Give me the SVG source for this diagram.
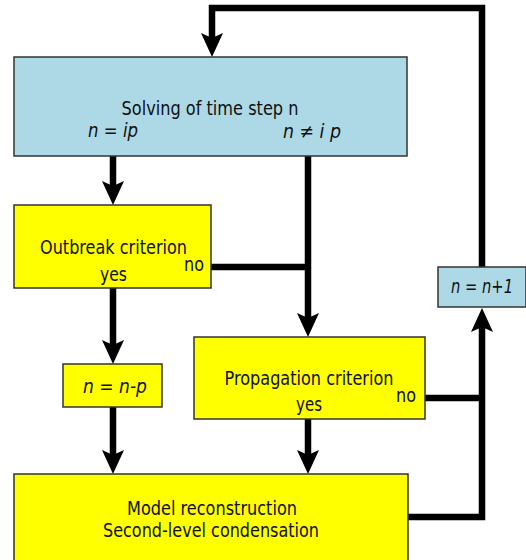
<svg xmlns="http://www.w3.org/2000/svg" width="526" height="560" viewBox="0 0 526 560">
<defs>
<style>
.box{stroke:#333;stroke-width:1.5}
.blue{fill:#ADD8E6}
.yel{fill:#FFFF00}
.t{font-family:"DejaVu Sans",Verdana,sans-serif;font-size:20px;fill:#111}
.c{text-anchor:middle}
.i{font-style:italic}
.con{fill:none;stroke:#000;stroke-width:6.5;stroke-linejoin:miter}
.arr{marker-end:url(#ah)}
</style>
<marker id="ah" markerUnits="userSpaceOnUse" markerWidth="24" markerHeight="22" viewBox="0 0 24 22" refX="12" refY="11" orient="auto">
<path d="M0,0 L24,11 L0,22 L5,11 Z" fill="#000"/>
</marker>
</defs>
<g id="connectors">
<path class="con arr" d="M482 267 V8 H212 V45"/>
<path class="con arr" d="M113 156 V193"/>
<path class="con arr" d="M308 156 V325"/>
<path class="con" d="M211 267 H308"/>
<path class="con arr" d="M113 288 V352"/>
<path class="con arr" d="M113 407 V462"/>
<path class="con arr" d="M308 419 V462"/>
<path class="con" d="M425 398 H482"/>
<path class="con arr" d="M408 517 H482 V320"/>
</g>
<g id="solve">
<rect class="box blue" x="14" y="57" width="393" height="99"/>
<text class="t c" x="210" y="115" textLength="177" lengthAdjust="spacingAndGlyphs">Solving of time step n</text>
<text class="t c i" x="113" y="137" textLength="50" lengthAdjust="spacingAndGlyphs">n = ip</text>
<text class="t c i" x="312" y="138" textLength="58" lengthAdjust="spacingAndGlyphs">n ≠ i p</text>
</g>
<g id="outbreak">
<rect class="box yel" x="14" y="205" width="197" height="83"/>
<text class="t c" x="113.5" y="254" textLength="147" lengthAdjust="spacingAndGlyphs">Outbreak criterion</text>
<text class="t" x="184" y="271" textLength="20" lengthAdjust="spacingAndGlyphs">no</text>
<text class="t c" x="113.5" y="281" textLength="27" lengthAdjust="spacingAndGlyphs">yes</text>
</g>
<g id="nminusp">
<rect class="box yel" x="63" y="364" width="99" height="43"/>
<text class="t c i" x="115" y="393" textLength="64" lengthAdjust="spacingAndGlyphs">n = n-p</text>
</g>
<g id="propagation">
<rect class="box yel" x="194" y="337" width="231" height="82"/>
<text class="t c" x="309" y="385" textLength="169" lengthAdjust="spacingAndGlyphs">Propagation criterion</text>
<text class="t" x="396" y="402" textLength="20" lengthAdjust="spacingAndGlyphs">no</text>
<text class="t c" x="309" y="411" textLength="26" lengthAdjust="spacingAndGlyphs">yes</text>
</g>
<g id="nplus1">
<rect class="box blue" x="438" y="267" width="88" height="40"/>
<text class="t c i" x="482" y="293" textLength="62" lengthAdjust="spacingAndGlyphs">n = n+1</text>
</g>
<g id="model">
<rect class="box yel" x="14" y="474" width="394" height="100"/>
<text class="t c" x="212" y="515" textLength="170" lengthAdjust="spacingAndGlyphs">Model reconstruction</text>
<text class="t c" x="211" y="537" textLength="216" lengthAdjust="spacingAndGlyphs">Second-level condensation</text>
</g>
</svg>
